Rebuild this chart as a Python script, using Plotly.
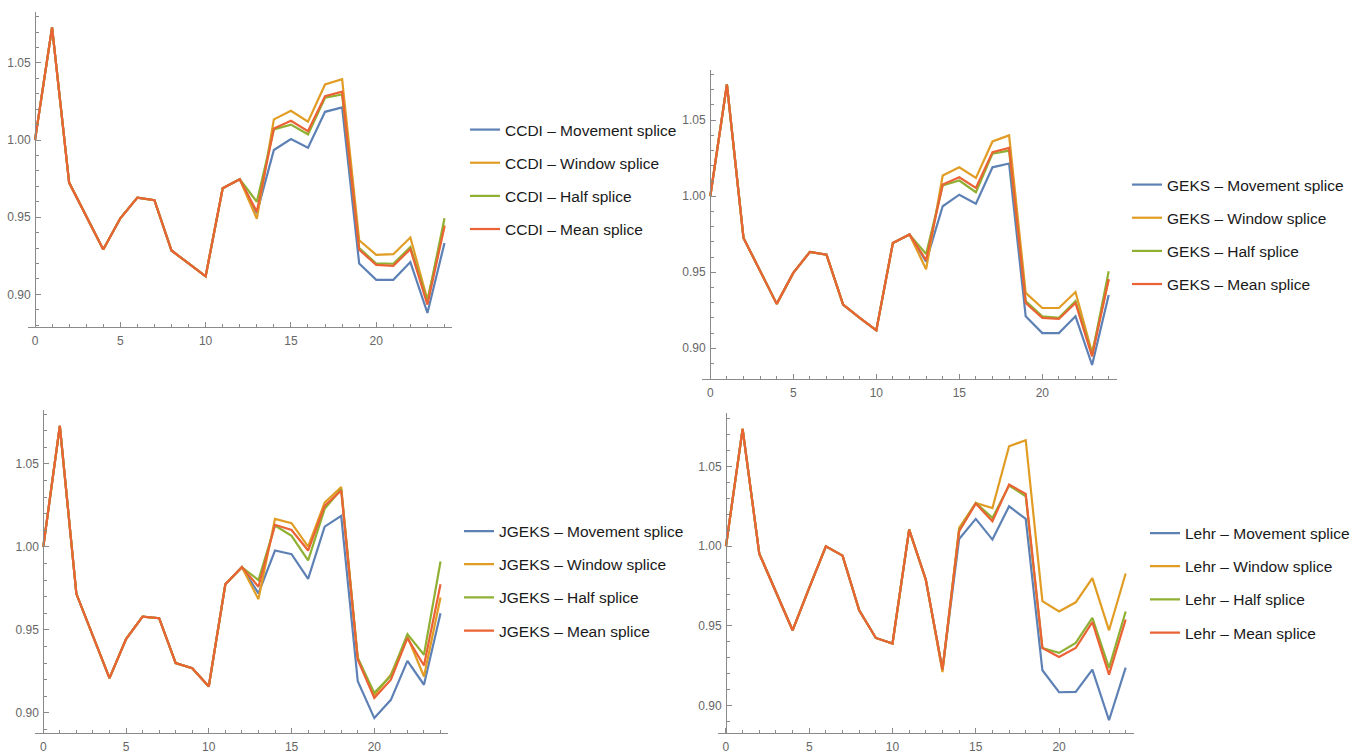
import plotly.graph_objects as go

# ---------------- data ----------------
x_values = list(range(25))
method_names = ["Movement splice", "Window splice", "Half splice", "Mean splice"]
index_names = ["CCDI", "GEKS", "JGEKS", "Lehr"]

# shared values for periods 0..12
ccdi_prefix = [1.000, 1.073, 0.9724, 0.9505, 0.929, 0.9493, 0.9627, 0.961, 0.9284, 0.920, 0.9116, 0.9687, 0.9746]
ccdi_movement = [0.9526, 0.9935, 1.0006, 0.995, 1.0183, 1.0211, 0.920, 0.9094, 0.9094, 0.9209, 0.8879, 0.9332]
ccdi_window = [0.949, 1.0134, 1.019, 1.0119, 1.036, 1.0395, 0.935, 0.9256, 0.926, 0.9368, 0.8965, 0.945]
ccdi_half = [0.960, 1.0069, 1.010, 1.0037, 1.0274, 1.0295, 0.930, 0.920, 0.9198, 0.9306, 0.8954, 0.9493]
ccdi_mean = [0.9536, 1.0075, 1.0125, 1.0058, 1.0285, 1.0313, 0.9289, 0.9191, 0.9185, 0.9293, 0.8933, 0.944]

geks_prefix = [1.000, 1.0735, 0.9726, 0.951, 0.9292, 0.9496, 0.9634, 0.9616, 0.9287, 0.920, 0.9118, 0.9693, 0.9748]
geks_movement = [0.957, 0.9934, 1.001, 0.995, 1.019, 1.0215, 0.921, 0.910, 0.910, 0.921, 0.889, 0.935]
geks_window = [0.952, 1.0136, 1.019, 1.012, 1.036, 1.040, 0.9364, 0.9265, 0.9265, 0.937, 0.897, 0.945]
geks_half = [0.962, 1.007, 1.0103, 1.0026, 1.028, 1.030, 0.931, 0.921, 0.920, 0.931, 0.8958, 0.9507]
geks_mean = [0.958, 1.0077, 1.0125, 1.0055, 1.029, 1.0318, 0.9298, 0.920, 0.9193, 0.9298, 0.8947, 0.9456]

jgeks_prefix = [1.000, 1.0729, 0.9717, 0.946, 0.9209, 0.9444, 0.958, 0.957, 0.930, 0.9269, 0.9159, 0.9775, 0.9878]
jgeks_movement = [0.972, 0.9978, 0.9956, 0.9807, 1.0122, 1.0187, 0.919, 0.8968, 0.9078, 0.9313, 0.9169, 0.960]
jgeks_window = [0.9685, 1.0169, 1.0143, 1.0002, 1.0267, 1.036, 0.933, 0.9105, 0.923, 0.946, 0.9219, 0.9695]
jgeks_half = [0.980, 1.0129, 1.0066, 0.9918, 1.0229, 1.0347, 0.933, 0.912, 0.9223, 0.9474, 0.935, 0.9912]
jgeks_mean = [0.976, 1.0133, 1.0102, 0.9978, 1.0247, 1.034, 0.932, 0.9089, 0.9199, 0.945, 0.9285, 0.9775]

lehr_prefix = [1.000, 1.0737, 0.9954, 0.971, 0.9472, 0.9738, 1.000, 0.9941, 0.9598, 0.9424, 0.9389, 1.0105, 0.979]
lehr_movement = [0.9225, 1.0046, 1.0172, 1.0042, 1.0251, 1.0172, 0.9221, 0.9083, 0.9085, 0.9225, 0.8907, 0.9238]
lehr_window = [0.921, 1.0115, 1.0272, 1.024, 1.0628, 1.0666, 0.9655, 0.959, 0.9648, 0.980, 0.9472, 0.9829]
lehr_half = [0.9225, 1.010, 1.0272, 1.0178, 1.0381, 1.0314, 0.9361, 0.933, 0.9393, 0.955, 0.9236, 0.959]
lehr_mean = [0.9225, 1.0094, 1.0268, 1.0157, 1.0387, 1.0329, 0.9361, 0.9305, 0.9361, 0.9523, 0.9194, 0.954]

x_tick_vals = [0, 5, 10, 15, 20]
y_tick_vals = [0.90, 0.95, 1.00, 1.05]
y_tick_text = ["0.90", "0.95", "1.00", "1.05"]

panel_series = [
    (ccdi_prefix, [ccdi_movement, ccdi_window, ccdi_half, ccdi_mean]),
    (geks_prefix, [geks_movement, geks_window, geks_half, geks_mean]),
    (jgeks_prefix, [jgeks_movement, jgeks_window, jgeks_half, jgeks_mean]),
    (lehr_prefix, [lehr_movement, lehr_window, lehr_half, lehr_mean]),
]

# ---------------- style / layout ----------------
W, H = 1367, 755
colors = ["#5E81B5", "#E19C24", "#8FB032", "#EB6235"]
axis_color = "#8a8a8a"
tick_font = dict(family="Liberation Sans, Arial, sans-serif", size=12, color="#666666")
legend_font = dict(family="Liberation Sans, Arial, sans-serif", size=15.5, color="#1a1a1a")

panels_geom = [
    dict(xl=28, xr=452, ypx=35, yb=326.7, yt=12, xr0=-0.41, xr1=24.44, y0=0.879, y1=1.083, lx=465, ly=179.5),
    dict(xl=702, xr=1117, ypx=710, yb=379, yt=70, xr0=-0.5, xr1=24.5, y0=0.8798, y1=1.083, lx=1127, ly=234.5),
    dict(xl=35, xr=448.3, ypx=43.3, yb=732.7, yt=410, xr0=-0.5, xr1=24.47, y0=0.888, y1=1.0825, lx=459, ly=581),
    dict(xl=718.3, xr=1134, ypx=726, yb=733, yt=413, xr0=-0.46, xr1=24.5, y0=0.8827, y1=1.0837, lx=1145, ly=583),
]

fig = go.Figure()
layout = dict(
    width=W, height=H,
    margin=dict(l=0, r=0, t=0, b=0),
    paper_bgcolor="white", plot_bgcolor="white",
    showlegend=True,
)

for i, (prefix, tails) in enumerate(panel_series):
    n = i + 1
    xa = "x" if n == 1 else f"x{n}"
    ya = "y" if n == 1 else f"y{n}"
    lg = "legend" if n == 1 else f"legend{n}"
    for j, tail in enumerate(tails):
        fig.add_trace(go.Scatter(
            x=x_values, y=prefix + tail,
            mode="lines",
            line=dict(color=colors[j], width=2.2),
            name=f"{index_names[i]} \u2013 {method_names[j]}",
            xaxis=xa, yaxis=ya,
            legend=lg, legendgroup=f"g{n}_{j}",
        ))
    g = panels_geom[i]
    xkey = "xaxis" if n == 1 else f"xaxis{n}"
    ykey = "yaxis" if n == 1 else f"yaxis{n}"
    layout[xkey] = dict(
        domain=[g["xl"] / W, g["xr"] / W],
        range=[g["xr0"], g["xr1"]],
        anchor=ya,
        showgrid=False, zeroline=False,
        showline=True, linecolor=axis_color, linewidth=1,
        ticks="inside", ticklen=5, tickcolor=axis_color,
        tickvals=x_tick_vals, tickfont=tick_font,
        ticklabelstandoff=3,
        minor=dict(dtick=1, tick0=0, ticks="inside", ticklen=3, tickcolor=axis_color, showgrid=False),
        fixedrange=True,
    )
    layout[ykey] = dict(
        domain=[1 - g["yb"] / H, 1 - g["yt"] / H],
        range=[g["y0"], g["y1"]],
        anchor="free", position=g["ypx"] / W,
        showgrid=False, zeroline=False,
        showline=True, linecolor=axis_color, linewidth=1,
        ticks="inside", ticklen=5, tickcolor=axis_color,
        tickvals=y_tick_vals, ticktext=y_tick_text, tickfont=tick_font,
        ticklabelstandoff=2,
        minor=dict(dtick=0.01, tick0=0.9, ticks="inside", ticklen=3, tickcolor=axis_color, showgrid=False),
        fixedrange=True,
    )
    layout[lg] = dict(
        x=g["lx"] / W, y=1 - g["ly"] / H,
        xanchor="left", yanchor="middle",
        font=legend_font,
        bgcolor="rgba(0,0,0,0)",
        traceorder="grouped",
        tracegroupgap=10,
        itemwidth=30,
    )

fig.update_layout(**layout)
fig.write_html(
    "out.html",
    config={"displayModeBar": False},
    post_script="document.body.style.margin='0px';document.body.style.overflow='hidden';",
)
